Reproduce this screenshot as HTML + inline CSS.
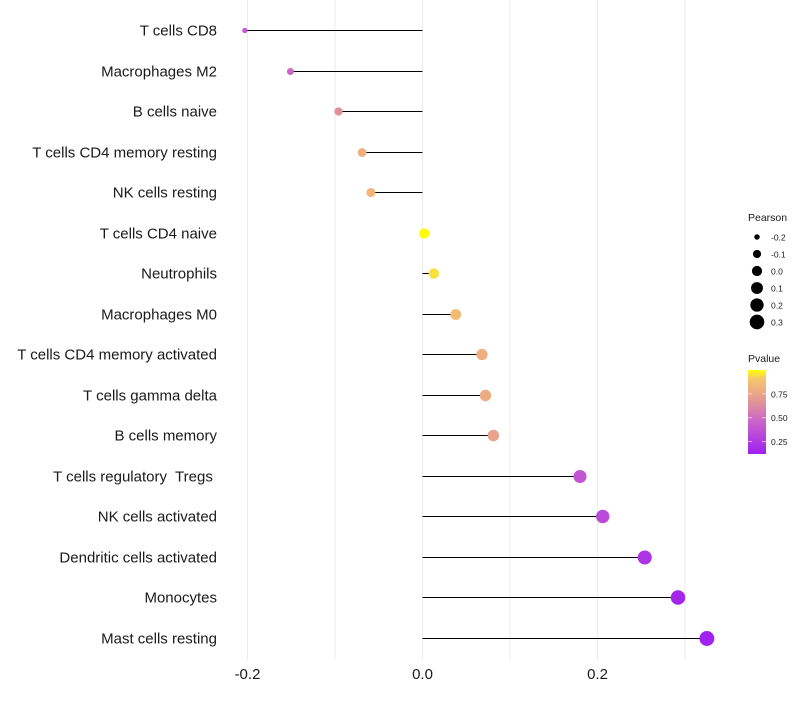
<!DOCTYPE html>
<html><head><meta charset="utf-8"><style>
body{margin:0;background:#fff;font-family:"Liberation Sans",sans-serif;}
svg text{font-family:"Liberation Sans",sans-serif;white-space:pre;}
</style></head><body>
<svg id="chart" width="800" height="700" xmlns="http://www.w3.org/2000/svg">
<defs><linearGradient id="pg" x1="0" y1="1" x2="0" y2="0">
<stop offset="0" stop-color="#A020F0"/><stop offset="0.4" stop-color="#CC66C8"/><stop offset="0.6" stop-color="#E0909A"/><stop offset="0.78" stop-color="#F0B080"/><stop offset="0.9" stop-color="#F5C86A"/><stop offset="1" stop-color="#FFFF00"/>
</linearGradient></defs>
<g id="grid"></g><g id="marks"></g><g id="ylab"></g><g id="xlab"></g><g id="legend"></g>
</svg>
<script>
const categories=["T cells CD8","Macrophages M2","B cells naive","T cells CD4 memory resting","NK cells resting","T cells CD4 naive","Neutrophils","Macrophages M0","T cells CD4 memory activated","T cells gamma delta","B cells memory","T cells regulatory  Tregs ","NK cells activated","Dendritic cells activated","Monocytes","Mast cells resting"];
const pearson=[-0.203,-0.151,-0.096,-0.069,-0.059,0.002,0.013,0.038,0.068,0.072,0.081,0.180,0.206,0.254,0.292,0.325];
const pvalue=[0.4,0.47,0.65,0.8,0.83,1.0,0.95,0.86,0.8,0.78,0.74,0.38,0.33,0.22,0.15,0.13];
const xTicks=[-0.2,0.0,0.2];
const sizeLegend=[-0.2,-0.1,0.0,0.1,0.2,0.3];
const colorTicks=[0.25,0.5,0.75];
const NS="http://www.w3.org/2000/svg";
const x=v=>422.5+v*875;
const y=i=>Math.round(30+i*40.5)+0.5;
const r=v=>Math.sqrt(Math.max(4,12+92*(v+0.151)));
const stops=[[0,[160,32,240]],[0.4,[204,102,200]],[0.6,[224,144,154]],[0.78,[240,176,128]],[0.9,[245,200,106]],[1,[255,255,0]]];
const pmin=0.12,pmax=1.0;
function col(p){let t=Math.min(1,Math.max(0,(p-pmin)/(pmax-pmin)));for(let k=1;k<stops.length;k++){if(t<=stops[k][0]){const a=stops[k-1],b=stops[k];const f=(t-a[0])/(b[0]-a[0]);const c=a[1].map((v,j)=>Math.round(v+(b[1][j]-v)*f));return `rgb(${c})`;}}return "rgb(255,255,0)";}
const cy=p=>454-(p-pmin)/(pmax-pmin)*84;
function mk(tag,attrs,parent,txt){const e=document.createElementNS(NS,tag);for(const k in attrs)e.setAttribute(k,attrs[k]);if(txt!==undefined)e.textContent=txt;document.getElementById(parent).appendChild(e);return e;}
[-0.2,-0.1,0,0.1,0.2,0.3].forEach(v=>{const l=mk('line',{x1:x(v),x2:x(v),y1:0,y2:660,stroke:'#ebebeb','stroke-width':1},'grid');

});
categories.forEach((c,i)=>{
const s=mk('line',{x1:x(0),x2:x(pearson[i]),y1:y(i),y2:y(i),stroke:'#000','stroke-width':1.1},'marks');


const d=mk('circle',{cx:x(pearson[i]),cy:y(i),r:r(pearson[i]),fill:col(pvalue[i])},'marks');


const t=mk('text',{x:217,y:y(i)+5,'text-anchor':'end','font-size':15,fill:'#1a1a1a'},'ylab',c);


});
xTicks.forEach(v=>{const t=mk('text',{x:x(v),y:679,'text-anchor':'middle','font-size':15,fill:'#1a1a1a'},'xlab',v.toFixed(1));

});
let lt=mk('text',{x:748,y:221,'font-size':10.5,fill:'#1a1a1a'},'legend','Pearson');


sizeLegend.forEach((v,k)=>{const yy=237+k*17;
const c=mk('circle',{cx:757,cy:yy,r:r(v),fill:'#000'},'legend');


const t=mk('text',{x:771,y:yy+3.5,'font-size':8.5,fill:'#1a1a1a'},'legend',v.toFixed(1));

});
lt=mk('text',{x:748,y:362,'font-size':10.5,fill:'#1a1a1a'},'legend','Pvalue');


const bar=mk('rect',{x:748,y:370,width:18,height:84,fill:'url(#pg)'},'legend');


colorTicks.forEach(v=>{const t=mk('text',{x:771,y:cy(v)+3.5,'font-size':8.5,fill:'#1a1a1a'},'legend',v.toFixed(2));


mk('line',{x1:748,x2:752,y1:cy(v),y2:cy(v),stroke:'#fff','stroke-opacity':0.6},'legend');
mk('line',{x1:762,x2:766,y1:cy(v),y2:cy(v),stroke:'#fff','stroke-opacity':0.6},'legend');});
</script>
</body></html>
